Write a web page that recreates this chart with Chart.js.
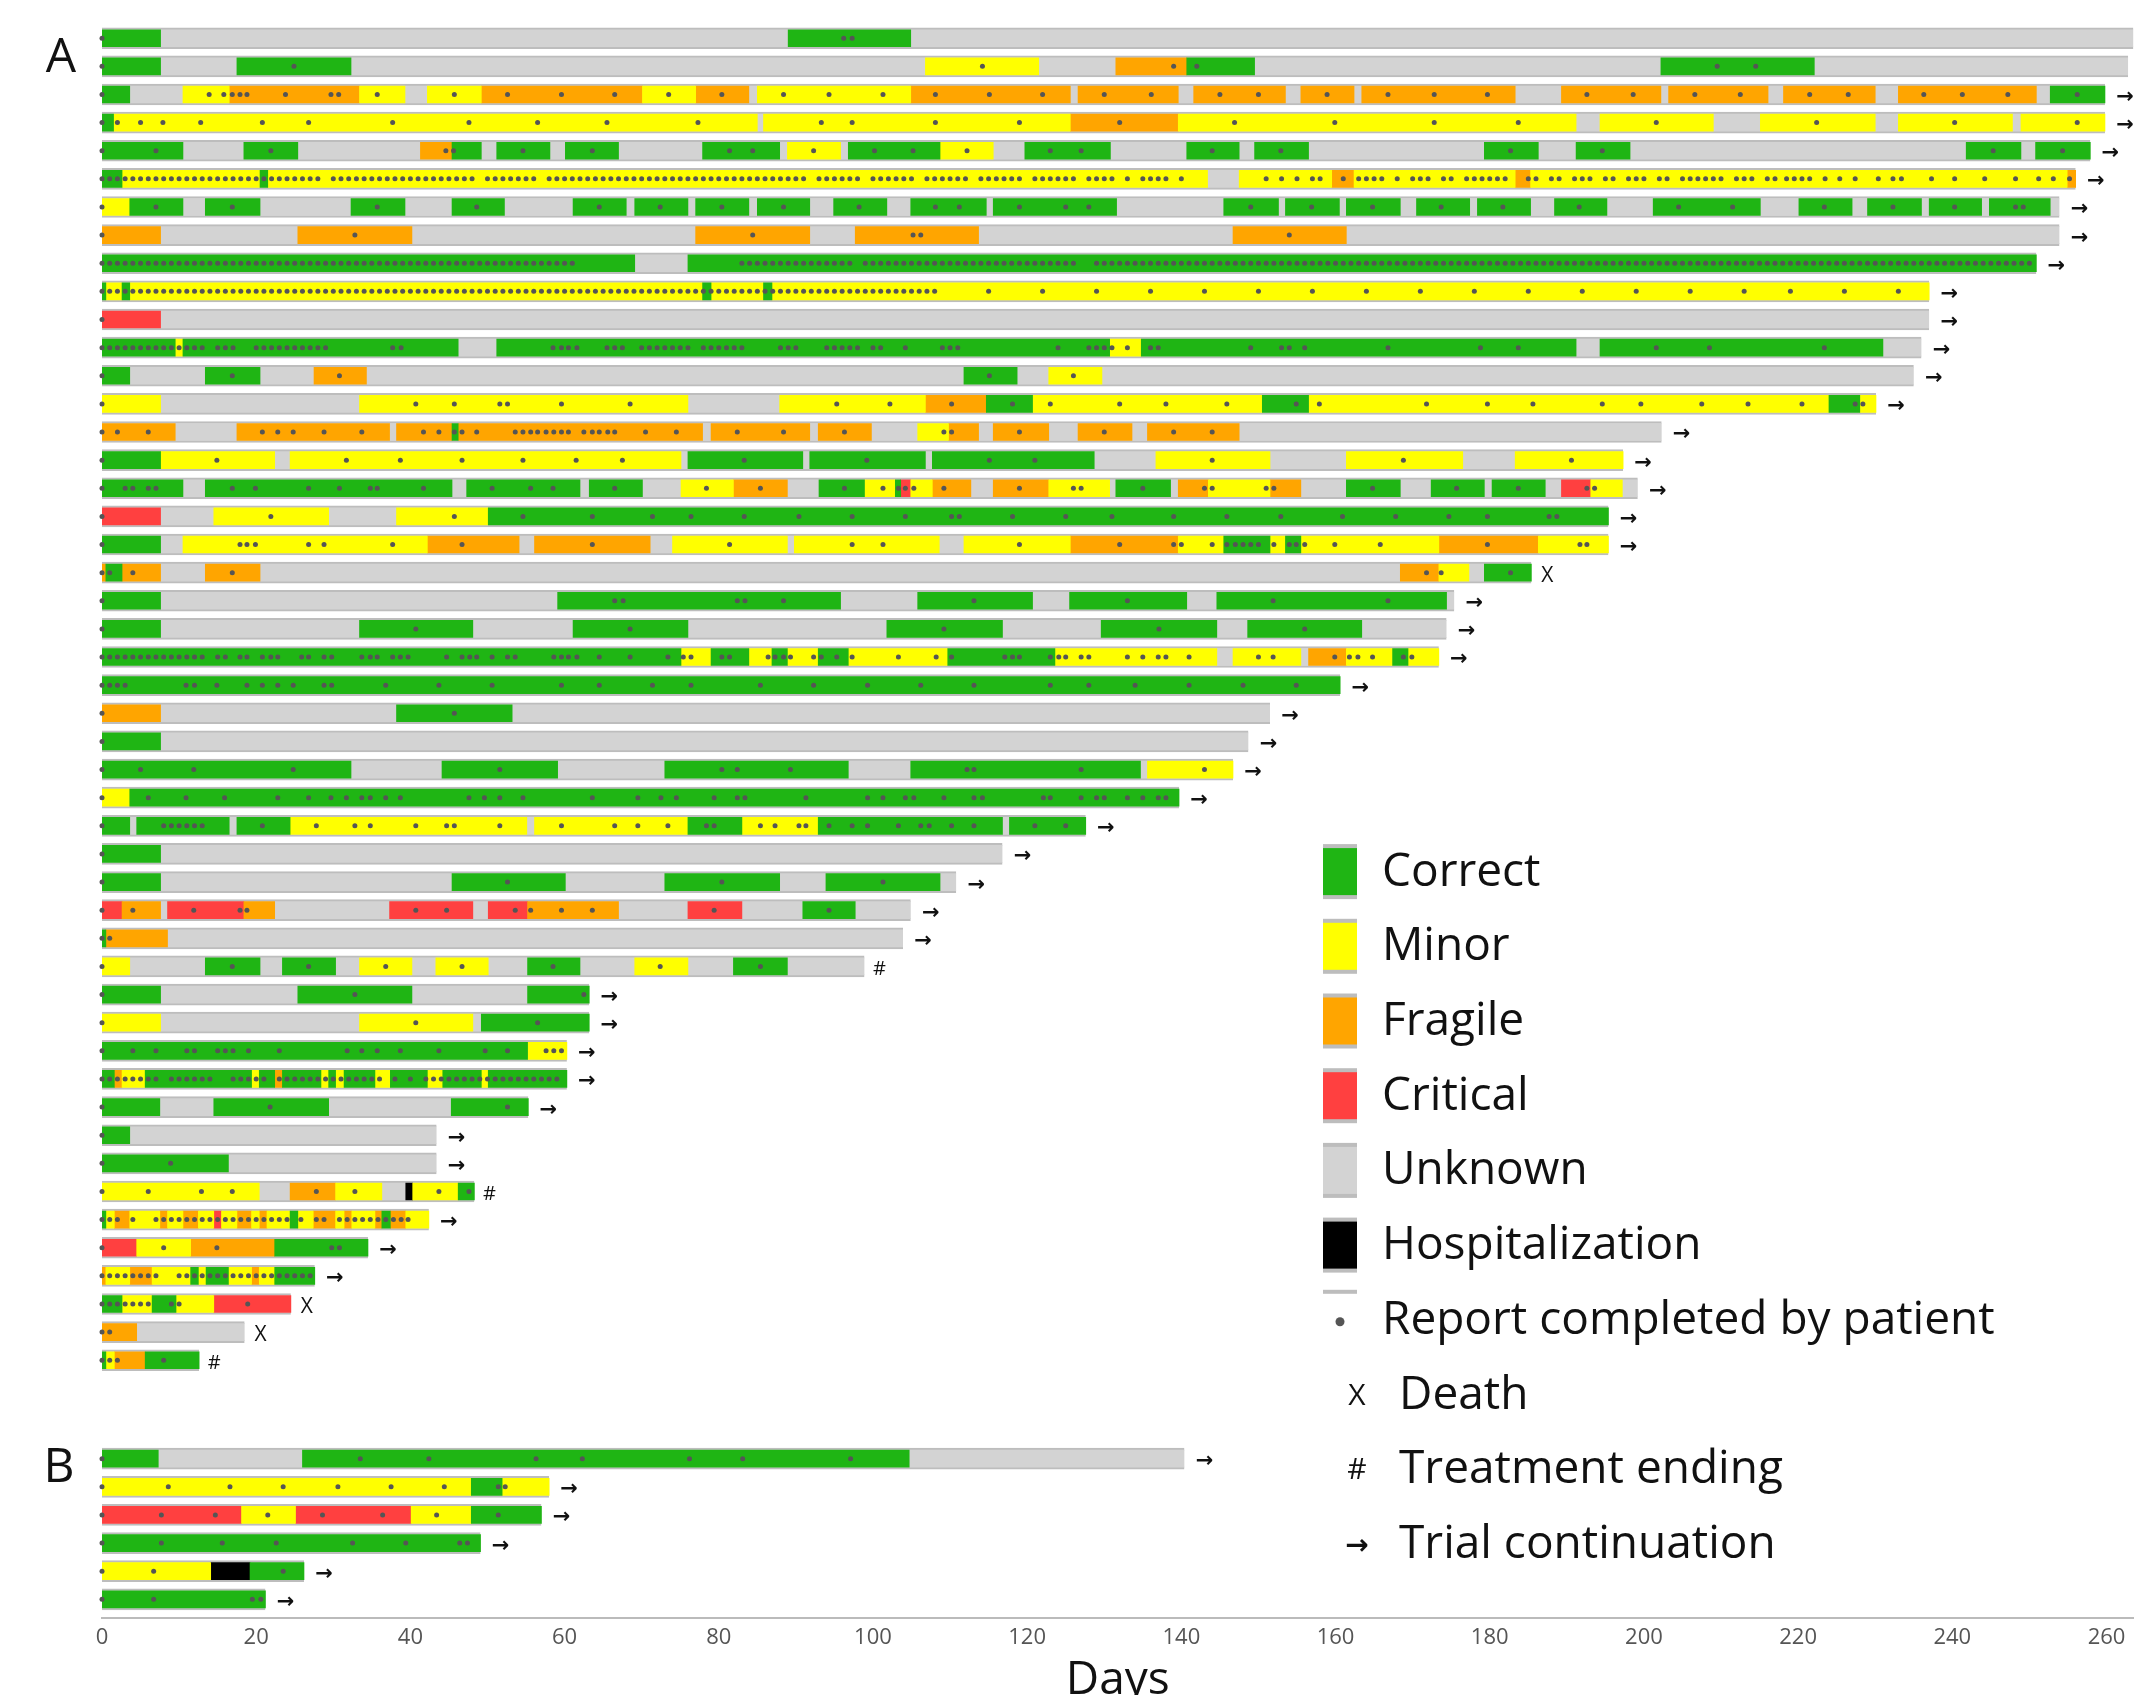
<!DOCTYPE html>
<html>
<head>
<meta charset="utf-8">
<script src="https://cdn.jsdelivr.net/npm/chart.js@4.4.1/dist/chart.umd.min.js"></script>
<style>
html,body{margin:0;padding:0;background:#ffffff;}
#wrap{width:2136px;height:1695px;position:relative;}
</style>
</head>
<body>
<div id="wrap"><canvas id="c" width="2136" height="1695"></canvas></div>
<script>
// ---------------- DATA ----------------
const patientsA = ['A01','A02','A03','A04','A05','A06','A07','A08','A09','A10','A11','A12','A13','A14','A15','A16','A17','A18','A19','A20','A21','A22','A23','A24','A25','A26','A27','A28','A29','A30','A31','A32','A33','A34','A35','A36','A37','A38','A39','A40','A41','A42','A43','A44','A45','A46','A47','A48'];
const patientsB = ['B01','B02','B03','B04','B05','B06'];

// follow-up length (days) of each patient
const lengthsA = [263.5,262.8,259.8,259.8,257.9,256.0,253.9,253.9,250.9,237.0,237.0,236.0,235.0,230.1,202.3,197.3,199.2,195.4,195.4,185.4,175.4,174.4,173.4,160.6,151.5,148.7,146.7,139.7,127.6,116.8,110.8,104.9,103.9,98.9,63.2,63.2,60.3,60.3,55.3,43.4,43.4,48.3,42.4,34.5,27.6,24.5,18.5,12.6];
const lengthsB = [140.4,58.0,57.0,49.1,26.2,21.2];

// end of follow-up: '→' trial continuation, 'X' death, '#' treatment ending
const endingsA = ['→','→','→','→','→','→','→','→','→','→','→','→','→','→','→','→','→','→','→','X','→','→','→','→','→','→','→','→','→','→','→','→','→','#','→','→','→','→','→','→','→','#','→','→','→','X','X','#'];
const endingsB = ['→','→','→','→','→','→'];

// status periods: [status, startDay, endDay]; C Correct, M Minor, F Fragile, K Critical, H Hospitalization (gaps = Unknown)
const segmentsA = [
 [['C',0,7.6],['C',89,104.9]],
 [['C',0,7.6],['C',17.5,32.3],['M',106.8,121.5],['F',131.5,140.7],['C',140.7,149.5],['C',202.2,222.1]],
 [['C',0,3.6],['M',10.5,16.5],['F',16.5,33.4],['M',33.4,39.3],['M',42.2,49.2],['F',49.2,70.1],['M',70.1,77],['F',77,83.9],['M',85,104.9],['F',104.9,125.6],['F',126.6,139.6],['F',141.6,153.5],['F',155.5,162.4],['F',163.4,183.3],['F',189.3,202.2],['F',203.2,216.1],['F',218.1,230],['F',233,250.9],['C',252.7,259.8]],
 [['C',0,1.5],['M',1.5,85],['M',85.8,125.6],['F',125.6,139.6],['M',139.6,191.2],['M',194.3,209],['M',215.1,230],['M',233,247.8],['M',248.9,259.8]],
 [['C',0,10.5],['C',18.4,25.4],['F',41.3,45.4],['C',45.4,49.2],['C',51.2,58.1],['C',60.1,67],['C',77.9,87.9],['M',88.9,95.8],['C',96.8,108.7],['M',108.7,115.6],['C',119.7,130.8],['C',140.7,147.5],['C',149.5,156.5],['C',179.3,186.3],['C',191.2,198.2],['C',241.8,248.9],['C',250.8,257.9]],
 [['C',0,2.6],['M',2.6,20.5],['C',20.5,21.5],['M',21.5,143.4],['M',147.5,159.5],['F',159.5,162.4],['M',162.4,183.3],['F',183.3,185.3],['M',185.3,254.9],['F',254.9,256]],
 [['M',0,3.6],['C',3.6,10.5],['C',13.4,20.5],['C',32.3,39.3],['C',45.4,52.2],['C',61.1,68],['C',69.1,76],['C',77,83.9],['C',85,91.8],['C',94.9,101.8],['C',104.9,114.7],['C',115.6,131.6],['C',145.5,152.6],['C',153.5,160.5],['C',161.4,168.4],['C',170.5,177.4],['C',178.4,185.3],['C',188.4,195.2],['C',201.2,215.1],['C',220.1,227],['C',229,236],['C',237,243.8],['C',244.8,252.7]],
 [['F',0,7.6],['F',25.4,40.2],['F',77,91.8],['F',97.7,113.7],['F',146.7,161.4]],
 [['C',0,69.1],['C',76,250.9]],
 [['C',0,0.5],['M',0.5,2.6],['C',2.6,3.6],['M',3.6,77.9],['C',77.9,79],['M',79,85.8],['C',85.8,86.9],['M',86.9,237]],
 [['K',0,7.6]],
 [['C',0,9.5],['M',9.5,10.5],['C',10.5,46.2],['C',51.2,130.7],['M',130.7,134.8],['C',134.8,191.2],['C',194.3,231]],
 [['C',0,3.6],['C',13.4,20.5],['F',27.5,34.3],['C',111.8,118.7],['M',122.8,129.7]],
 [['M',0,7.6],['M',33.4,76],['M',87.9,106.8],['F',106.8,114.7],['C',114.7,120.7],['M',120.7,150.5],['C',150.5,156.5],['M',156.5,224],['C',224,228],['M',228,230.1]],
 [['F',0,9.5],['F',17.5,37.3],['F',38.2,45.4],['C',45.4,46.2],['F',46.2,77.9],['F',79,91.8],['F',92.9,99.8],['M',105.8,109.8],['F',109.8,113.7],['F',115.6,122.8],['F',126.6,133.6],['F',135.6,147.5]],
 [['C',0,7.6],['M',7.6,22.4],['M',24.4,75.1],['C',76,90.9],['C',91.8,106.8],['C',107.7,128.7],['M',136.7,151.5],['M',161.4,176.5],['M',183.3,197.3]],
 [['C',0,10.5],['C',13.4,45.4],['C',47.3,62],['C',63.2,70.1],['M',75.1,81.9],['F',81.9,88.9],['C',93,98.9],['M',98.9,102.9],['C',102.9,103.6],['K',103.6,104.9],['M',104.9,107.7],['F',107.7,112.7],['F',115.6,122.8],['M',122.8,130.7],['C',131.5,138.6],['F',139.6,143.5],['M',143.5,151.5],['F',151.5,155.5],['C',161.4,168.4],['C',172.4,179.3],['C',180.3,187.2],['K',189.3,193.1],['M',193.1,197.2]],
 [['K',0,7.6],['M',14.5,29.4],['M',38.2,50.1],['C',50.1,195.4]],
 [['C',0,7.6],['M',10.5,42.2],['F',42.2,54.1],['F',56.1,71.1],['M',74,88.9],['M',89.8,108.6],['M',111.8,125.6],['F',125.6,139.6],['M',139.6,145.5],['C',145.5,151.5],['M',151.5,153.5],['C',153.5,155.5],['M',155.5,173.4],['F',173.4,186.3],['M',186.3,195.4]],
 [['F',0,0.5],['C',0.5,2.6],['F',2.6,7.6],['F',13.4,20.5],['F',168.4,173.4],['M',173.4,177.3],['C',179.3,185.4]],
 [['C',0,7.6],['C',59.1,95.8],['C',105.8,120.7],['C',125.5,140.7],['C',144.6,174.4]],
 [['C',0,7.6],['C',33.4,48.1],['C',61.1,76],['C',101.8,116.8],['C',129.6,144.6],['C',148.6,163.4]],
 [['C',0,75.1],['M',75.1,79],['C',79,83.9],['M',83.9,86.9],['C',86.9,88.9],['M',88.9,92.9],['C',92.9,96.8],['M',96.8,109.7],['C',109.7,123.6],['M',123.6,144.6],['M',146.7,155.5],['F',156.5,161.4],['M',161.4,167.4],['C',167.4,169.4],['M',169.4,173.4]],
 [['C',0,160.6]],
 [['F',0,7.6],['C',38.2,53.2]],
 [['C',0,7.6]],
 [['C',0,32.3],['C',44.1,59.1],['C',73,96.8],['C',104.9,134.7],['M',135.6,146.7]],
 [['M',0,3.6],['C',3.6,139.7]],
 [['C',0,3.6],['C',4.5,16.5],['C',17.5,24.4],['M',24.4,55.1],['M',56.1,76],['C',76,83],['M',83,92.9],['C',92.9,116.8],['C',117.7,127.6]],
 [['C',0,7.6]],
 [['C',0,7.6],['C',45.4,60.1],['C',73,87.9],['C',93.9,108.7]],
 [['K',0,2.6],['F',2.6,7.6],['K',8.5,18.4],['F',18.4,22.4],['K',37.3,48.1],['K',50.1,55.2],['F',55.2,67],['K',76,83],['C',90.9,97.7]],
 [['C',0,0.5],['F',0.5,8.5]],
 [['M',0,3.6],['C',13.4,20.5],['C',23.4,30.3],['M',33.4,40.2],['M',43.3,50.1],['C',55.2,62],['M',69.1,76],['C',81.9,88.9]],
 [['C',0,7.6],['C',25.4,40.2],['C',55.2,63.2]],
 [['M',0,7.6],['M',33.4,48.1],['C',49.2,63.2]],
 [['C',0,55.2],['M',55.2,60.3]],
 [['C',0,1.6],['F',1.6,2.6],['M',2.6,5.6],['C',5.6,19.4],['M',19.4,20.4],['C',20.4,22.4],['F',22.4,23.4],['C',23.4,28.4],['M',28.4,29.4],['C',29.4,30.3],['M',30.3,31.4],['C',31.4,35.4],['M',35.4,37.4],['C',37.4,42.2],['M',42.2,44.2],['C',44.2,49.2],['M',49.2,50.1],['C',50.1,60.3]],
 [['C',0,7.5],['C',14.5,29.4],['C',45.3,55.3]],
 [['C',0,3.6]],
 [['C',0,16.4]],
 [['M',0,20.4],['F',24.4,30.3],['M',30.3,36.3],['H',39.4,40.3],['M',40.3,46.2],['C',46.2,48.3]],
 [['C',0,0.5],['M',0.5,1.6],['F',1.6,3.6],['M',3.6,7.5],['F',7.5,8.5],['M',8.5,10.5],['F',10.5,12.5],['M',12.5,14.5],['K',14.5,15.5],['M',15.5,17.5],['F',17.5,19.4],['M',19.4,20.4],['F',20.4,21.4],['M',21.4,24.4],['C',24.4,25.4],['M',25.4,27.4],['F',27.4,30.3],['M',30.3,31.4],['F',31.4,32.4],['M',32.4,35.4],['F',35.4,36.3],['C',36.3,37.4],['F',37.4,39.4],['M',39.4,42.4]],
 [['K',0,4.5],['M',4.5,11.5],['F',11.5,22.4],['C',22.4,34.5]],
 [['F',0,0.5],['M',0.5,3.6],['F',3.6,6.5],['M',6.5,11.5],['C',11.5,12.5],['M',12.5,13.5],['C',13.5,16.4],['M',16.4,19.4],['F',19.4,20.4],['M',20.4,22.4],['C',22.4,27.6]],
 [['C',0,2.6],['M',2.6,6.5],['C',6.5,9.6],['M',9.6,14.5],['K',14.5,24.5]],
 [['F',0,4.5]],
 [['C',0,0.5],['M',0.5,1.6],['F',1.6,5.6],['C',5.6,12.6]]
];
const segmentsB = [
 [['C',0,7.3],['C',26,104.7]],
 [['M',0,47.9],['C',47.9,51.9],['M',51.9,58]],
 [['K',0,18.1],['M',18.1,25.1],['K',25.1,40.1],['M',40.1,47.9],['C',47.9,57]],
 [['C',0,49.1]],
 [['M',0,14.1],['H',14.1,19.2],['C',19.2,26.2]],
 [['C',0,21.2]]
];

// days on which the patient completed a report
const reportsA = [
 [0,96.2,97.3],
 [0,24.9,114.2,139,142,209.5,214.5],
 [0,13.9,15.8,16.9,17.9,18.8,23.8,29.7,30.7,35.7,45.7,52.6,59.6,66.5,73.5,80.4,88.4,94.3,101.3,108.1,115.1,122,130,136.1,145,150,158.9,166.8,172.8,179.7,192.6,198.6,206.6,212.5,221.5,226.5,236.3,241.3,247.2,256.2],
 [0,2,5,7.9,12.8,20.8,26.8,37.7,47.6,56.5,65.5,77.3,93.3,97.3,108.1,119,132,146.9,159.9,172.8,183.7,201.6,222.4,240.3,256.2],
 [0,7,21.9,44.6,45.6,54.6,63.6,81.4,84.4,92.3,100.2,105.2,112.2,123,127,144,152.9,182.7,194.6,245.3,254.3],
 [0,1,2,3,4,5,6,7,8,9,10,11,12,13,14,15,16,17,18,19,20,21,22,23,24,25,26,27,28,30,31,32,33,34,35,36,37,38,39,40,41,42,43,44,45,46,47,48,50,51,52,53,54,55,56,58,59,60,61,62,63,64,65,66,67,68,69,70,71,72,73,74,75,76,77,78,79,80,81,82,83,84,85,86,87,88,89,90,91,93,94,95,96,97,98,100,101,102,103,104,105,107,108,109,110,111,112,114,115,116,117,118,119,121,122,123,124,125,126,128,129,130,131,133,135,136,137,138,140,151,153,155,157,158,161,163,164,165,166,168,170,171,172,174,175,177,178,179,180,181,182,185,186,188,189,191,192,193,195,196,198,199,200,202,203,205,206,207,208,209,210,212,213,214,216,217,218.5,219.5,220.5,221.5,223.5,225.4,227.4,230.4,232.3,233.4,237.3,240.3,244.2,248.2,251.2,253.1,255.2],
 [0,7,16.9,35.7,48.6,64.5,72.4,80.4,88.4,98.2,108.1,111.2,119,125,128,149,156.9,164.8,173.7,181.7,191.6,204.5,211.5,223.4,232.3,240.3,248.2,249.2],
 [0,32.8,84.4,105.2,106.2,154],
 [0,1,2,3,4,5,6,7,8,9,10,11,12,13,14,15,16,17,18,19,20,21,22,23,24,25,26,27,28,29,30,31,32,33,34,35,36,37,38,39,40,41,42,43,44,45,46,47,48,49,50,51,52,53,54,55,56,57,58,59,60,61,83,84,85,86,87,88,89,90,91,92,93,94,95,96,97,99,100,101,102,103,104,105,106,107,108,109,110,111,112,113,114,115,116,117,118,119,120,121,122,123,124,125,126,129,130,131,132,133,134,135,136,137,138,139,140,141,142,143,144,145,146,147,148,149,150,151,152,153,154,155,156,157,158,159,160,161,162,163,164,165,166,167,168,169,170,171,172,173,174,175,176,177,178,179,180,181,182,183,184,185,186,187,188,189,190,191,192,193,194,195,196,197,198,199,200,201,202,203,204,205,206,207,208,209,210,211,212,213,214,215,216,217,218,219,220,221,222,223,224,225,226,227,228,229,230,231,232,233,234,235,236,237,238,239,240,241,242,243,244,245,246,247,248,249,250],
 [0,1,2,3,4,5,6,7,8,9,10,11,12,13,14,15,16,17,18,19,20,21,22,23,24,25,26,27,28,29,30,31,32,33,34,35,36,37,38,39,40,41,42,43,44,45,46,47,48,49,50,51,52,53,54,55,56,57,58,59,60,61,62,63,64,65,66,67,68,69,70,71,72,73,74,75,76,77,78,79,80,81,82,83,84,85,86,87,88,89,90,91,92,93,94,95,96,97,98,99,100,101,102,103,104,105,106,107,108,115,122,129,136,143,150,157,164,171,178,185,192,199,206,213,219,226,233],
 [0],
 [0,1,2,3,4,5,6,7,8,9,10,11,12,13,15,16,17,20,21,22,23,24,25,26,27,28,29,37.7,38.8,58.5,59.6,60.5,61.6,65.5,66.5,67.5,70,71,72,73,74,75,76,78,79,80,81,82,83,88,89,90,94,95,96,97,98,100,101,104.2,109,110,111,124,128,129,130,131,133,136,137,149,153,154,156,166.8,178.8,183.7,201.6,208.5,223.4],
 [0,16.9,30.8,115.1,126],
 [0,40.7,45.7,51.6,52.6,59.6,68.5,95.3,102.2,110.2,118.1,123,132,138,145.9,154.9,157.9,171.8,179.7,185.6,194.6,199.6,207.5,213.5,220.5,227.4,228.4],
 [0,2,6,20.8,22.8,24.8,28.8,33.7,41.7,43.7,45.7,46.7,48.6,53.6,54.6,55.6,56.5,57.6,58.6,59.6,60.5,62.5,63.6,64.5,65.6,66.5,70.5,74.5,82.4,88.4,96.3,109.2,110.2,119,130,139,144],
 [0,14.9,31.7,38.7,46.7,54.6,61.5,67.5,83.3,99.2,115.1,121,144,168.8,190.6],
 [0,3,4,6,7,16.9,19.9,26.8,30.8,34.8,35.7,41.7,50.6,55.6,58.5,66.5,78.4,85.4,96.3,101.3,103.3,104.2,105.3,109.2,119,126,127,135,143,144,151,152,164.8,175.7,183.7,192.6,193.6],
 [0,21.9,45.7,54.6,63.6,71.4,76.4,83.3,90.4,97.3,104.2,110.2,111.2,118.1,125,131,139,145.9,152.9,160.9,167.8,174.7,179.7,187.7,188.7],
 [0,17.9,18.8,19.9,26.8,28.8,37.7,46.7,63.6,81.4,97.3,101.3,119,132,139,140,144,145.9,147,148,149,150,152,154,154.9,156,159.9,165.8,179.7,191.7,192.6],
 [0,1,4,16.9,171.8,173.7,182.7],
 [0,66.5,67.6,82.4,83.4,88.4,113.1,133,151.9,166.8],
 [0,40.7,68.5,109.2,137.1,156],
 [0,1,2,3,4,5,6,7,8,9,10,11,12,13,15,16,17.9,18.8,20.8,21.9,22.8,25.9,26.8,28.8,29.8,33.7,34.8,35.7,37.7,38.7,39.7,44.7,46.7,47.7,48.6,50.6,52.6,53.6,58.6,59.6,60.5,61.6,64.5,68.5,73.4,75.4,76.4,80.4,81.4,86.4,87.3,88.4,89.3,92.3,93.3,95.3,97.3,103.3,108.2,110.2,117.1,118.1,119,123,124.1,125,127,128,133,135,137,138,141,150,151.9,159.9,161.8,162.9,164.8,168.8,169.9],
 [0,1,2,3,10.9,12,14.9,18.8,20.8,22.8,24.8,28.8,29.8,36.8,43.7,50.6,59.6,64.5,71.4,76.4,85.4,92.3,99.3,106.2,113.1,123,128,134,141,148,154.9],
 [0,45.7],
 [0],
 [0,5,11.9,24.8,51.6,80.4,82.4,89.3,112.2,113.1,127,143],
 [0,6,10.9,15.9,22.8,26.8,29.7,31.7,33.7,34.8,36.8,38.7,47.6,49.6,51.6,54.6,63.6,69.5,72.5,74.5,79.4,82.4,83.4,91.3,99.3,101.3,104.2,105.3,109.2,113.1,114.2,122.1,123,127,129,130,133,135,137,138],
 [0,8,9,10,11,12,13,20.8,27.8,32.8,34.8,40.7,44.7,45.7,51.6,59.6,66.5,69.5,73.4,78.4,79.4,85.4,87.3,90.4,91.3,94.3,97.3,99.3,103.3,106.2,107.3,110.2,113.1,121,125],
 [0],
 [0,52.6,80.4,101.3],
 [0,4,11.9,17.9,18.8,40.7,44.7,53.6,55.6,59.6,63.6,79.4,94.3],
 [0,1],
 [0,16.9,26.8,36.8,46.7,58.5,72.4,85.4],
 [0,32.8,62.5],
 [0,40.7,56.5],
 [0,4,7,11,12,15,16,17,19,23,31.8,33.7,35.7,38.7,43.7,49.7,52.6,57.6,58.6,59.6],
 [0,1,2,3,4,5,6,7,9,10,11,12,13,14,17,18,19,20,21,23,24,25,26,27,28,29,30,31,32,33,34,35,36,38,40,42,43,44,45,46,47,48,49,50,51,52,53,54,55,56,57,58,59],
 [0,21.8,52.6],
 [0],
 [0,8.9],
 [0,6,12.9,16.9,27.8,32.8,43.7,47.6],
 [0,1,2,4,7,8,9,10,11,12,13,14,15,16,17,18,19,20,21,22,23,24,25.8,27.8,28.8,30.8,31.8,32.8,33.8,34.8,35.8,36.8,37.8,38.8,39.7],
 [0,8,14.9,29.8,30.8],
 [0,1,2,3,4,5,6,7,10,11,12,13,14,15,16,17,18,19,20,21,22,23,24,25,26,27],
 [0,1,2,3,4,5,6,9,10,18.9],
 [0,1],
 [0,1,2,8]
];
const reportsB = [
 [0,33.5,42.4,56.3,62.3,76.2,83.1,97.1],
 [0,8.6,16.6,23.5,30.6,37.5,44.4,51.4,52.3],
 [0,7.7,14.7,21.5,28.6,36.4,43.4,51.4],
 [0,7.7,15.6,22.6,32.5,39.4,46.4,47.4],
 [0,6.7,23.5],
 [0,6.7,19.5,20.6]
];

const xTickValues = [0,20,40,60,80,100,120,140,160,180,200,220,240,260];
const legendStatus = [['C','Correct'],['M','Minor'],['F','Fragile'],['K','Critical'],['U','Unknown'],['H','Hospitalization']];
const legendMarks = [['X','Death'],['#','Treatment ending'],['→','Trial continuation']];

// ---------------- STYLE ----------------
const COLORS = {C:'#1fb514', M:'#ffff00', F:'#ffa500', K:'#ff4040', H:'#000000', U:'#d3d3d3'};
const EDGE = '#bdbdbd';
const DOT = '#555555';
const FONT = "'Open Sans', 'Noto Sans', sans-serif";
const PANEL_GAP = 2.5;   // empty rows between panel A and B

// ---------------- BUILD ----------------
const rows = [];
patientsA.forEach((p, i) => rows.push({panel:'A', y:i, len:lengthsA[i], end:endingsA[i], segs:segmentsA[i], dots:reportsA[i]}));
patientsB.forEach((p, i) => rows.push({panel:'B', y:patientsA.length + PANEL_GAP + i, len:lengthsB[i], end:endingsB[i], segs:segmentsB[i], dots:reportsB[i]}));

const datasets = [];
datasets.push({
  type:'bar', label:'Unknown', indexAxis:'y', grouped:false, barThickness:21,
  backgroundColor:COLORS.U, borderColor:EDGE,
  borderWidth:{top:2,bottom:2,left:0,right:0}, borderSkipped:false, order:3,
  data: rows.map(r => ({x:[0, r.len], y:r.y}))
});
['C','M','F','K','H'].forEach(code => {
  datasets.push({
    type:'bar', label:code, indexAxis:'y', grouped:false, barThickness:17,
    backgroundColor:COLORS[code], borderWidth:0, order:2,
    data: rows.flatMap(r => r.segs.filter(s => s[0] === code).map(s => ({x:[s[1], s[2]], y:r.y})))
  });
});
datasets.push({
  type:'scatter', label:'Report', indexAxis:'x', order:1, clip:false,
  pointRadius:2.5, pointHoverRadius:2.5, pointBackgroundColor:DOT, pointBorderWidth:0,
  data: rows.flatMap(r => r.dots.map(d => ({x:d, y:r.y})))
});

const overlay = {
  id:'overlay',
  afterDatasetsDraw(chart) {
    const ctx = chart.ctx, xs = chart.scales.x, ys = chart.scales.y;
    ctx.save();
    ctx.fillStyle = '#111';
    ctx.textAlign = 'center';
    ctx.textBaseline = 'middle';
    rows.forEach(r => {
      const px = xs.getPixelForValue(r.len), py = ys.getPixelForValue(r.y) + 3;
      if (r.end === '→') { ctx.font = "bold 21px 'DejaVu Sans'"; ctx.fillText('→', px + 20, py); }
      else if (r.end === 'X') { ctx.font = "21px " + FONT; ctx.fillText('X', px + 16, py); }
      else { ctx.font = "20px " + FONT; ctx.fillText('#', px + 15, py); }
    });
    // panel letters
    ctx.font = "48px " + FONT;
    ctx.textBaseline = 'alphabetic';
    ctx.fillText('A', 61, ys.getPixelForValue(0) + 34);
    ctx.fillText('B', 59, ys.getPixelForValue(patientsA.length + PANEL_GAP) + 23);
    // legend
    const lx = 1323, lw = 34, lh = 55, step = 74.7, y0 = 871.6;
    ctx.textAlign = 'left';
    legendStatus.forEach((it, k) => {
      const cy = y0 + k * step;
      ctx.fillStyle = EDGE;
      ctx.fillRect(lx, cy - lh / 2, lw, lh);
      ctx.fillStyle = COLORS[it[0]];
      ctx.fillRect(lx, cy - lh / 2 + 4, lw, lh - 8);
      ctx.fillStyle = '#111';
      ctx.font = "46px " + FONT;
      ctx.fillText(it[1], 1382, cy + 14);
    });
    const ry = y0 + 6 * step;
    ctx.fillStyle = EDGE;
    ctx.fillRect(lx, ry - 30, lw, 4);
    ctx.fillStyle = DOT;
    ctx.beginPath(); ctx.arc(lx + lw / 2, ry + 2, 4.5, 0, Math.PI * 2); ctx.fill();
    ctx.fillStyle = '#111';
    ctx.fillText('Report completed by patient', 1382, ry + 14);
    legendMarks.forEach((it, k) => {
      const cy = y0 + (7 + k) * step;
      ctx.textAlign = 'center';
      if (it[0] === '→') ctx.font = "bold 28px 'DejaVu Sans'";
      else ctx.font = "30px " + FONT;
      ctx.fillText(it[0], 1357, cy + 10);
      ctx.textAlign = 'left';
      ctx.font = "46px " + FONT;
      ctx.fillText(it[1], 1399, cy + 14);
    });
    ctx.restore();
  }
};

Chart.defaults.font.family = FONT;
new Chart(document.getElementById('c'), {
  type:'bar',
  data:{ datasets },
  options:{
    indexAxis:'y',
    responsive:false, animation:false, devicePixelRatio:1,
    layout:{ padding:{left:102, right:1, top:0, bottom:-9} },
    plugins:{ legend:{display:false}, tooltip:{enabled:false} },
    scales:{
      x:{
        type:'linear', position:'bottom', min:0, max:263.5, offset:false,
        grid:{display:false, drawTicks:false},
        border:{display:true, color:'#bbbbbb', width:2},
        ticks:{ stepSize:20, padding:7, color:'#555555', font:{size:22}, maxRotation:0, autoSkip:false, includeBounds:false },
        afterBuildTicks: s => { s.ticks = xTickValues.map(v => ({value:v})); },
        title:{ display:true, text:'Days', color:'#111', font:{size:46, lineHeight:1}, padding:{top:0, bottom:0} }
      },
      y:{ type:'linear', display:false, reverse:true, min:-1.27, max:56.15, offset:false }
    }
  },
  plugins:[overlay]
});
</script>
</body>
</html>
